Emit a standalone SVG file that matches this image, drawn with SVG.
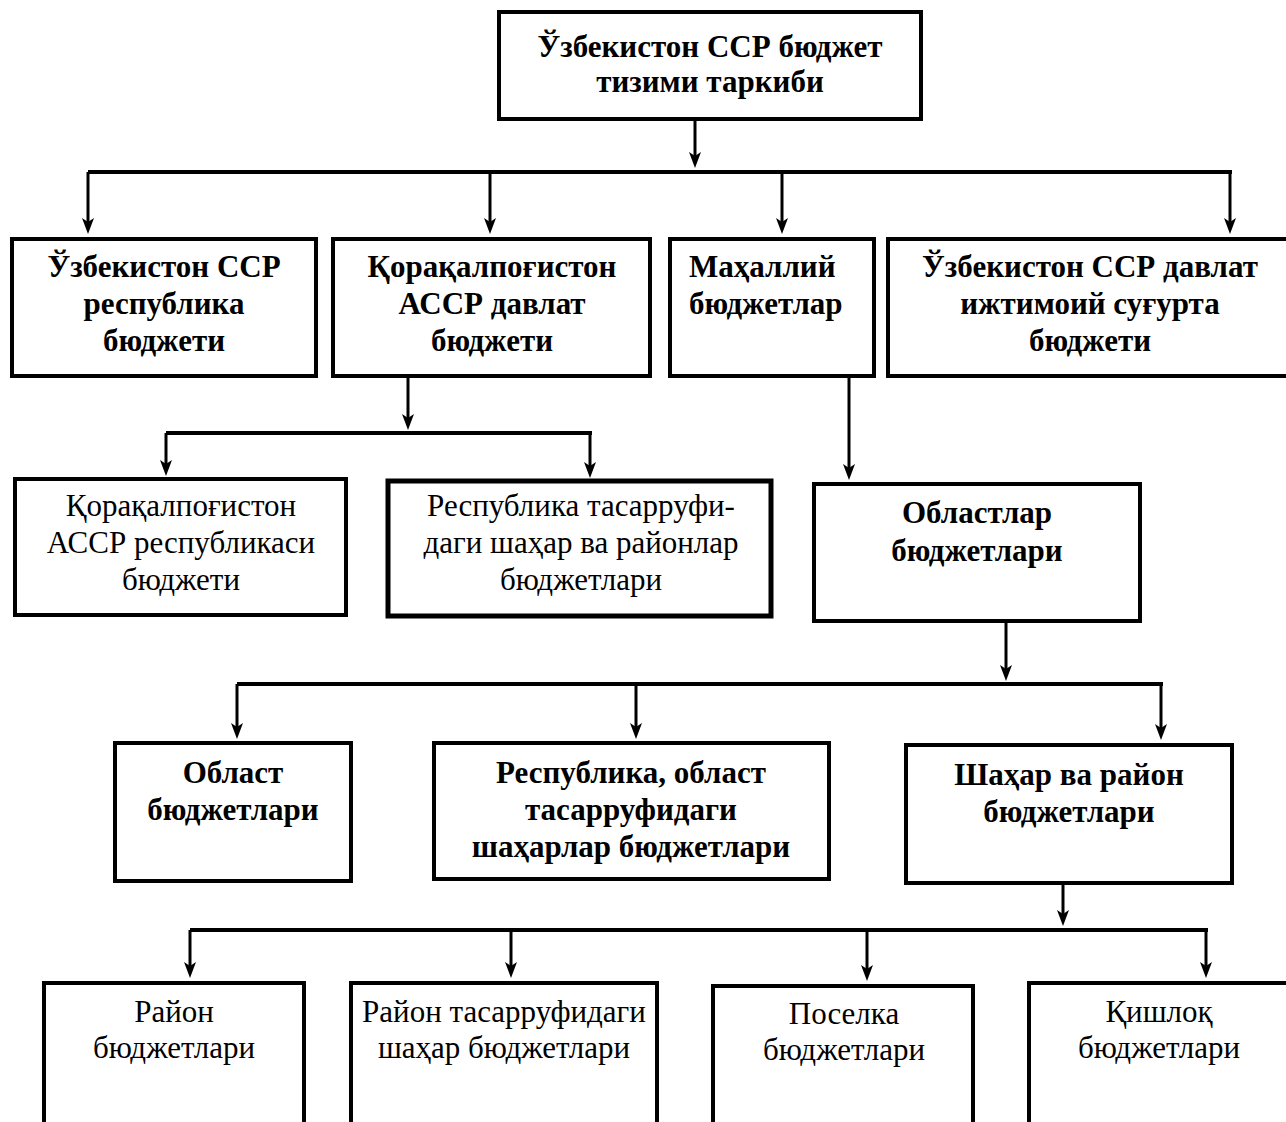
<svg xmlns="http://www.w3.org/2000/svg" width="1286" height="1122" viewBox="0 0 1286 1122" font-family="Liberation Serif, Times New Roman, serif">
<defs>
<marker id="ah" markerUnits="userSpaceOnUse" viewBox="-1 -7 18 14" markerWidth="18" markerHeight="14" refX="8" refY="0" orient="auto">
<path d="M0,-6 L16,0 L0,6 L4,0 Z" fill="#000"/>
</marker>
<style>
.box{fill:#fff;stroke:#000;stroke-width:4}
.thick{stroke-width:5}
text{font-size:31px;text-anchor:middle;fill:#000}
.b{font-weight:bold}
.bar{stroke:#000;stroke-width:4;fill:none}
.arr{stroke:#000;stroke-width:3;fill:none;marker-end:url(#ah)}
</style>
</defs>
<rect width="1286" height="1122" fill="#fff"/>

<g id="connectors">
<line class="arr" x1="695" y1="121" x2="695" y2="160"/>
<line class="bar" x1="88" y1="172" x2="1232" y2="172"/>
<line class="arr" x1="88" y1="172" x2="88" y2="226"/>
<line class="arr" x1="490" y1="172" x2="490" y2="226"/>
<line class="arr" x1="782" y1="172" x2="782" y2="226"/>
<line class="arr" x1="1230" y1="172" x2="1230" y2="226"/>

<line class="arr" x1="408" y1="378" x2="408" y2="422"/>
<line class="bar" x1="166" y1="433" x2="592" y2="433"/>
<line class="arr" x1="166" y1="433" x2="166" y2="468"/>
<line class="arr" x1="590" y1="433" x2="590" y2="470"/>

<line class="arr" x1="849" y1="378" x2="849" y2="472"/>

<line class="arr" x1="1006" y1="623" x2="1006" y2="673"/>
<line class="bar" x1="237" y1="684" x2="1163" y2="684"/>
<line class="arr" x1="237" y1="684" x2="237" y2="731"/>
<line class="arr" x1="636" y1="684" x2="636" y2="731"/>
<line class="arr" x1="1161" y1="684" x2="1161" y2="732"/>

<line class="arr" x1="1063" y1="885" x2="1063" y2="918"/>
<line class="bar" x1="190" y1="930" x2="1208" y2="930"/>
<line class="arr" x1="190" y1="930" x2="190" y2="970"/>
<line class="arr" x1="511" y1="930" x2="511" y2="970"/>
<line class="arr" x1="867" y1="930" x2="867" y2="973"/>
<line class="arr" x1="1206" y1="930" x2="1206" y2="970"/>
</g>

<g id="n-top">
<rect class="box" x="499" y="12" width="422" height="107"/>
<text class="b" x="710" y="57">Ўзбекистон ССР бюджет</text>
<text class="b" x="710" y="92">тизими таркиби</text>
</g>

<g id="n-republic">
<rect class="box" x="12" y="239" width="304" height="137"/>
<text class="b" x="164" y="277">Ўзбекистон ССР</text>
<text class="b" x="164" y="314">республика</text>
<text class="b" x="164" y="351">бюджети</text>
</g>

<g id="n-karakalpak">
<rect class="box" x="333" y="239" width="317" height="137"/>
<text class="b" x="492" y="277">Қорақалпоғистон</text>
<text class="b" x="492" y="314">АССР давлат</text>
<text class="b" x="492" y="351">бюджети</text>
</g>

<g id="n-local">
<rect class="box" x="670" y="239" width="204" height="137"/>
<text class="b" x="689" y="277" style="text-anchor:start">Маҳаллий</text>
<text class="b" x="689" y="314" style="text-anchor:start">бюджетлар</text>
</g>

<g id="n-insurance">
<rect class="box" x="888" y="239" width="400" height="137"/>
<text class="b" x="1090" y="277">Ўзбекистон ССР давлат</text>
<text class="b" x="1090" y="314">ижтимоий суғурта</text>
<text class="b" x="1090" y="351">бюджети</text>
</g>

<g id="n-kk-republic">
<rect class="box" x="15" y="479" width="331" height="136"/>
<text x="181" y="516">Қорақалпоғистон</text>
<text x="181" y="553">АССР республикаси</text>
<text x="181" y="590">бюджети</text>
</g>

<g id="n-kk-cities">
<rect class="box thick" x="388" y="481" width="383" height="135"/>
<text x="581" y="516">Республика тасарруфи-</text>
<text x="581" y="553">даги шаҳар ва районлар</text>
<text x="581" y="590">бюджетлари</text>
</g>

<g id="n-regions">
<rect class="box" x="814" y="484" width="326" height="137"/>
<text class="b" x="977" y="523">Областлар</text>
<text class="b" x="977" y="561">бюджетлари</text>
</g>

<g id="n-oblast">
<rect class="box" x="115" y="743" width="236" height="138"/>
<text class="b" x="233" y="783">Област</text>
<text class="b" x="233" y="820">бюджетлари</text>
</g>

<g id="n-rep-oblast-cities">
<rect class="box" x="434" y="743" width="395" height="136"/>
<text class="b" x="631" y="783">Республика, област</text>
<text class="b" x="631" y="820">тасарруфидаги</text>
<text class="b" x="631" y="857">шаҳарлар бюджетлари</text>
</g>

<g id="n-city-district">
<rect class="box" x="906" y="745" width="326" height="138"/>
<text class="b" x="1069" y="785">Шаҳар ва район</text>
<text class="b" x="1069" y="822">бюджетлари</text>
</g>

<g id="n-district">
<rect class="box" x="44" y="983" width="260" height="200"/>
<text x="174" y="1022">Район</text>
<text x="174" y="1058">бюджетлари</text>
</g>

<g id="n-district-cities">
<rect class="box" x="351" y="983" width="306" height="200"/>
<text x="504" y="1022">Район тасарруфидаги</text>
<text x="504" y="1058">шаҳар бюджетлари</text>
</g>

<g id="n-settlement">
<rect class="box" x="713" y="986" width="260" height="200"/>
<text x="844" y="1024">Поселка</text>
<text x="844" y="1060">бюджетлари</text>
</g>

<g id="n-village">
<rect class="box" x="1029" y="983" width="260" height="200"/>
<text x="1159" y="1022">Қишлоқ</text>
<text x="1159" y="1058">бюджетлари</text>
</g>
</svg>
